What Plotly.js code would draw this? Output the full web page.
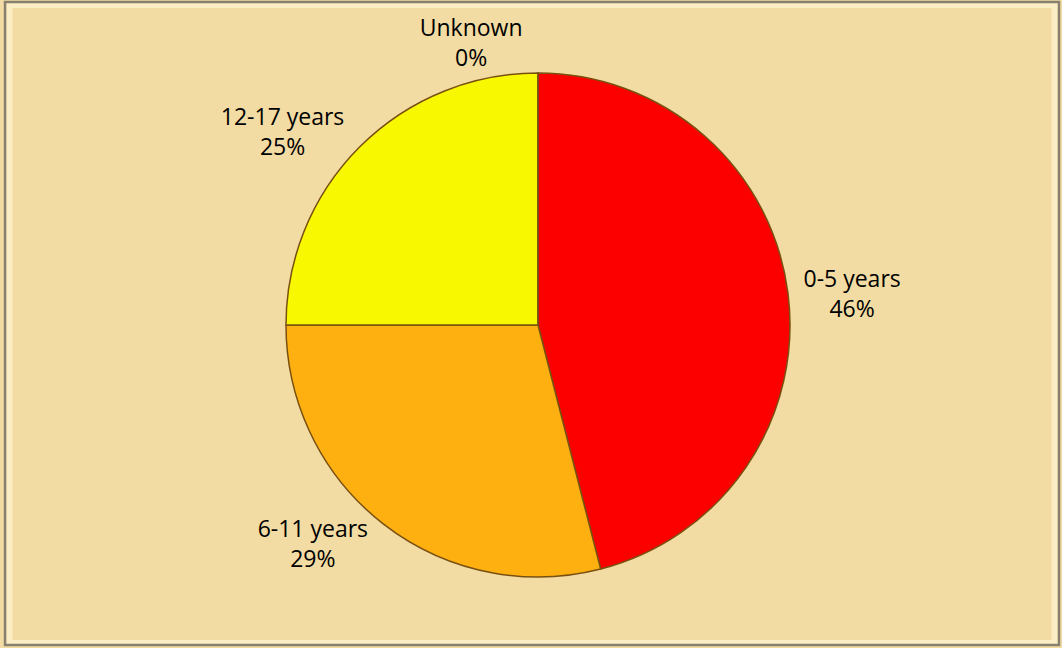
<!DOCTYPE html>
<html><head><meta charset="utf-8">
<script src="https://cdn.plot.ly/plotly-3.0.1.min.js"></script>
<style>html,body{margin:0;padding:0;background:#f2dca3;}#chart{width:1062px;height:648px;}</style>
</head><body><div id="chart"></div>
<script>
const categories = ["0-5 years", "6-11 years", "12-17 years", "Unknown"];
const values = [46, 29, 25, 0];
const colors = ["#fc0000", "#fdb010", "#f8f800", "#a0a0a0"];

const trace = {
  type: "pie",
  labels: categories,
  values: values,
  sort: false,
  direction: "clockwise",
  rotation: 0,
  marker: {colors: colors, line: {color: "#7a5010", width: 1.5}},
  textposition: "outside",
  texttemplate: "%{label}<br>%{percent:.0%}",
  textfont: {family: "Open Sans, sans-serif", size: 23, color: "#000"},
  outsidetextfont: {family: "Open Sans, sans-serif", size: 23, color: "#000"},
  hoverinfo: "label+percent",
  showlegend: false,
  automargin: false
};

const layout = {
  width: 1062, height: 648,
  paper_bgcolor: "#f2dca3",
  plot_bgcolor: "#f2dca3",
  margin: {l: 114, r: 100, t: 73, b: 71},
  shapes: [
    {type: "rect", xref: "paper", yref: "paper", x0: -0.1233, x1: 1.1092, y0: -0.1310, y1: 1.1349,
     line: {color: "#fbeec4", width: 6}, fillcolor: "rgba(0,0,0,0)", layer: "below"},
    {type: "rect", xref: "paper", yref: "paper", x0: -0.1285, x1: 1.1144, y0: -0.1349, y1: 1.1409,
     line: {color: "#8a8070", width: 2.5}, fillcolor: "rgba(0,0,0,0)", layer: "below"}
  ]
};

Plotly.newPlot("chart", [trace], layout, {displayModeBar: false, staticPlot: true});
</script></body></html>
